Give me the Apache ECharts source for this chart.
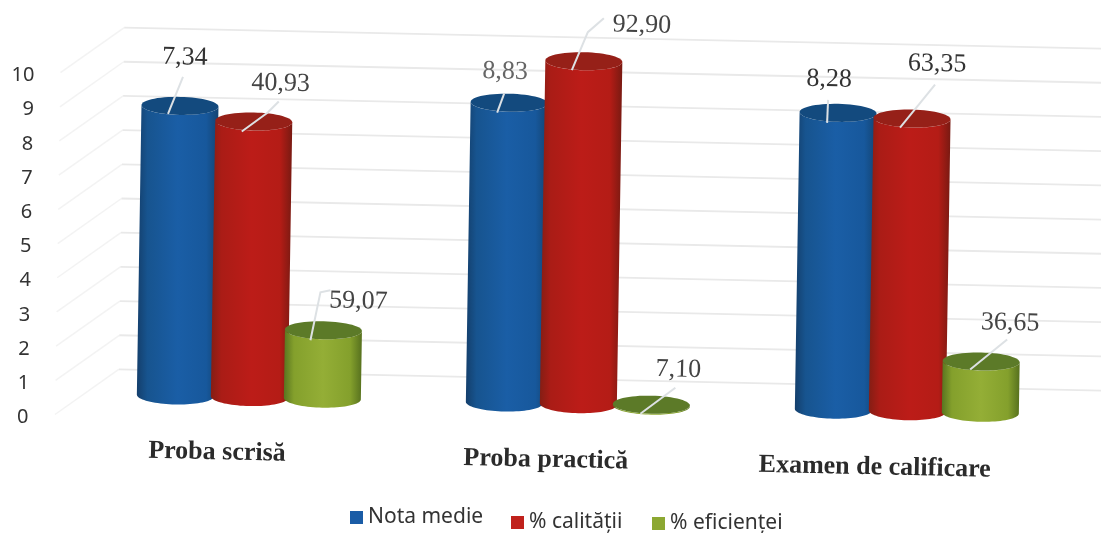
<!DOCTYPE html>
<html><head><meta charset="utf-8">
<style>html,body{margin:0;padding:0;background:#fff}#c{width:1101px;height:533px}</style>
<script src="https://cdn.jsdelivr.net/npm/echarts@6/dist/echarts.min.js"></script>
</head><body><div id="c"></div>
<script>
const categories = ['Proba scrisă', 'Proba practică', 'Examen de calificare'];
const yTicks = [0, 1, 2, 3, 4, 5, 6, 7, 8, 9, 10];
// Heights as read on the axis
const notaMedie = [8.47, 8.77, 8.68];
const calitatii = [8.06, 10.03, 8.56];
const eficientei = [2.0, 0.03, 1.5];
// Printed value labels
const notaLabels = ['7,34', '8,83', '8,28'];
const calitatiLabels = ['40,93', '92,90', '63,35'];
const eficientaLabels = ['59,07', '7,10', '36,65'];

// Layout of the picture (not data)
const TILT_Y = 0.0215, TILT_X = 0.016, PIVOT_X = 55, PIVOT_Y = 414.5;
const DEPTH = 21.6, RX = 38.5, RY = 9, GROUP_SHIFT = 32;
const BACK_X = 118, BACK_UP = 46.4, END_X = 1110;
const T = (x, y) => [x + TILT_X * (PIVOT_Y - y), y + TILT_Y * (x - PIVOT_X)];
const labelFont = '26px "Liberation Serif"';
const stopAt = [0, 0.13, 0.5, 0.85, 1];
const styles = [
  {name: 'Nota medie', color: '#1a5ca6', off: -74, top: '#134a7e',
   stops: ['#143f6c', '#17548f', '#1a5ea6', '#17589c', '#134472'], labels: notaLabels,
   labelAt: [[5, -48.5], [-4, -31], [-9, -33.5]], labelFill: ['#333', '#666', '#333'],
   leaders: [[[-12, 8], [3, -29]], [[-12, 10], [-5, -9]], [[-11, 10], [-10, -13]]]},
  {name: '% calității', color: '#c0211c', off: 0, top: '#962018',
   stops: ['#841e14', '#aa1c16', '#bc1c18', '#b41c16', '#781a12'], labels: calitatiLabels,
   labelAt: [[27, -38], [58, -36], [25, -54.5]], labelFill: ['#444', '#444', '#333'],
   leaders: [[[-12, 10], [14, -9], [25, -20]], [[-12, 9], [4, -29], [20, -43]], [[-12, 9], [23, -34]]]},
  {name: '% eficienței', color: '#8ca832', off: 73, top: '#5c7a28',
   stops: ['#587420', '#84a02c', '#94ae36', '#84a02c', '#56701e'], labels: eficientaLabels,
   labelAt: [[35, -29], [27, -35], [29, -38.5]], labelFill: ['#444', '#444', '#444'],
   leaders: [[[-13, 10], [-3, -38], [7, -40]], [[-11, 9], [24, -17]], [[-11, 8], [26, -22]]]}
];

function ellipse(cx, cy, from, to, n) {
  const pts = [];
  for (let i = 0; i <= n; i++) {
    const a = from + (to - from) * i / n;
    pts.push(T(cx + RX * Math.cos(a), cy + RY * Math.sin(a)));
  }
  return pts;
}

function cylinderItem(st) {
  return function (params, api) {
    const idx = api.value(0), val = api.value(1);
    const c0 = api.coord([idx, 0]), c1 = api.coord([idx, val]);
    const px = c0[0] + GROUP_SHIFT + st.off;
    const by = c0[1] - DEPTH, ty = c1[1] - DEPTH;
    const body = ellipse(px, by, 0, Math.PI, 40).concat(ellipse(px, ty, Math.PI, 0, 40));
    const g = st.stops.map((c, i) => ({offset: stopAt[i], color: c}));
    const topC = T(px, ty);
    const children = [
      {type: 'polygon', shape: {points: body},
       style: {fill: new echarts.graphic.LinearGradient(0, 0, 1, 0, g)}},
      {type: 'polygon', shape: {points: ellipse(px, ty, 0, Math.PI * 2, 60)}, style: {fill: st.top}},
      {type: 'polyline', shape: {points: st.leaders[idx].map(p => [topC[0] + p[0], topC[1] + p[1]])},
       style: {stroke: '#dde1e4', lineWidth: 2, fill: null}},
      {type: 'text', x: topC[0] + st.labelAt[idx][0], y: topC[1] + st.labelAt[idx][1], rotation: -TILT_Y,
       style: {text: st.labels[idx], font: labelFont, fill: st.labelFill[idx], align: 'center', verticalAlign: 'middle'}}
    ];
    return {type: 'group', children};
  };
}

function wallItem(params, api) {
  const y = api.coord([0, api.value(0)])[1];
  const front = T(PIVOT_X, y);
  const back = T(BACK_X, y - BACK_UP);
  const end = T(END_X, y - BACK_UP);
  return {type: 'group', children: [
    {type: 'line', shape: {x1: front[0], y1: front[1], x2: back[0], y2: back[1]},
     style: {stroke: '#f3f3f3', lineWidth: 1.5}},
    {type: 'line', shape: {x1: back[0], y1: back[1], x2: end[0], y2: end[1]},
     style: {stroke: '#e9e9e9', lineWidth: 1.8}}
  ]};
}

const catRich = {};
[0, 15, 30].forEach((pad, i) => {
  catRich['c' + i] = {fontFamily: 'Liberation Serif', fontWeight: 'bold', fontSize: 26, color: '#2b2b2b', padding: [pad, 0, 0, 0]};
});
const yRich = {};
yTicks.forEach(v => {
  yRich['t' + v] = {fontFamily: 'Noto Sans', fontSize: 20, color: '#333', padding: [6, (10 - v) * 0.6, 0, 0]};
});
const seriesValues = [notaMedie, calitatii, eficientei];
const legendSpots = [[350, 507], [511, 512], [652, 513]];

const chart = echarts.init(document.getElementById('c'));
chart.setOption({
  animation: false,
  backgroundColor: '#fff',
  grid: {left: 52.5, top: 72.6, width: 987, height: 341.9, containLabel: false},
  xAxis: {
    type: 'category', data: categories,
    axisLine: {show: false}, axisTick: {show: false}, splitLine: {show: false},
    axisLabel: {
      margin: 38, rotate: -1.2, align: 'center', interval: 0,
      formatter: (v, i) => `{c${i}|${v}}`, rich: catRich
    }
  },
  yAxis: {
    type: 'value', min: 0, max: 10, interval: 1,
    axisLine: {show: false}, axisTick: {show: false}, splitLine: {show: false},
    axisLabel: {margin: 18, formatter: v => `{t${v}|${v}}`, rich: yRich}
  },
  legend: styles.map((s, i) => ({
    data: [s.name], left: legendSpots[i][0], top: legendSpots[i][1],
    icon: 'rect', itemWidth: 13, itemHeight: 13, itemGap: 6, padding: 0,
    textStyle: {fontFamily: 'Noto Sans', fontSize: 21, color: '#333'}
  })),
  series: [
    {type: 'custom', name: 'wall', silent: true, z: 1, coordinateSystem: 'cartesian2d',
     data: yTicks.map(v => [v]), encode: {y: 0}, renderItem: wallItem}
  ].concat(styles.map((s, i) => ({
    type: 'custom', name: s.name, z: 2 + i, coordinateSystem: 'cartesian2d',
    itemStyle: {color: s.color},
    data: seriesValues[i].map((v, k) => [k, v]),
    encode: {x: 0, y: 1},
    renderItem: cylinderItem(s)
  })))
});
</script></body></html>
